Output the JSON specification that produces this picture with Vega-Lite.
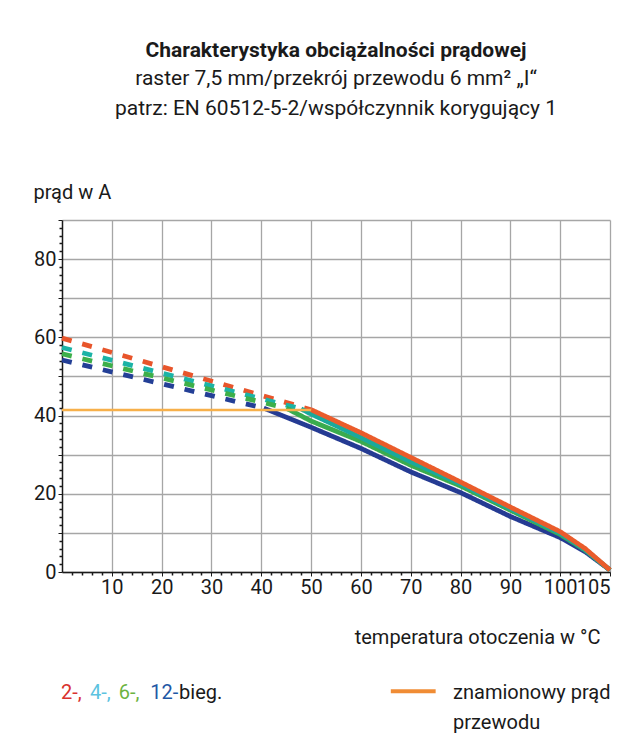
{
  "$schema": "https://vega.github.io/schema/vega-lite/v6.json",
  "width": 548,
  "height": 352,
  "autosize": {"type": "none"},
  "padding": {"left": 62, "top": 220, "right": 31, "bottom": 179},
  "background": "white",
  "config": {
    "font": "Roboto, sans-serif",
    "view": {"stroke": null}
  },
  "title": {
    "text": "Charakterystyka obciążalności prądowej",
    "subtitle": ["raster 7,5 mm/przekrój przewodu 6 mm² „I“", "patrz: EN 60512-5-2/współczynnik korygujący 1"],
    "fontSize": 21,
    "fontWeight": "bold",
    "color": "#1a1a1a",
    "subtitleFontSize": 21,
    "subtitleColor": "#1a1a1a",
    "subtitleLineHeight": 30,
    "subtitlePadding": 7,
    "anchor": "middle",
    "frame": "group",
    "offset": 63
  },
  "datasets": {
    "curves": [
      {"k": "R-d", "st": "d", "t": 0, "i": 59.8},
      {"k": "R-d", "st": "d", "t": 50, "i": 41.5},
      {"k": "T-d", "st": "d", "t": 0, "i": 57.4},
      {"k": "T-d", "st": "d", "t": 48, "i": 41.7},
      {"k": "G-d", "st": "d", "t": 0, "i": 55.8},
      {"k": "G-d", "st": "d", "t": 45, "i": 41.9},
      {"k": "B-d", "st": "d", "t": 0, "i": 54.2},
      {"k": "B-d", "st": "d", "t": 40.5, "i": 41.9},
      {"k": "B-s", "st": "s", "t": 40.5, "i": 41.9},
      {"k": "B-s", "st": "s", "t": 50, "i": 37.0},
      {"k": "B-s", "st": "s", "t": 60, "i": 31.6},
      {"k": "B-s", "st": "s", "t": 70, "i": 25.6},
      {"k": "B-s", "st": "s", "t": 80, "i": 20.3},
      {"k": "B-s", "st": "s", "t": 90, "i": 14.2},
      {"k": "B-s", "st": "s", "t": 100, "i": 8.8},
      {"k": "B-s", "st": "s", "t": 102.5, "i": 5.2},
      {"k": "B-s", "st": "s", "t": 105, "i": 0.5},
      {"k": "G-s", "st": "s", "t": 45, "i": 41.9},
      {"k": "G-s", "st": "s", "t": 50, "i": 38.6},
      {"k": "G-s", "st": "s", "t": 60, "i": 33.4},
      {"k": "G-s", "st": "s", "t": 70, "i": 27.3},
      {"k": "G-s", "st": "s", "t": 80, "i": 22.0},
      {"k": "G-s", "st": "s", "t": 90, "i": 15.8},
      {"k": "G-s", "st": "s", "t": 100, "i": 9.6},
      {"k": "G-s", "st": "s", "t": 102.5, "i": 5.6},
      {"k": "G-s", "st": "s", "t": 105, "i": 0.5},
      {"k": "T-s", "st": "s", "t": 48, "i": 41.7},
      {"k": "T-s", "st": "s", "t": 50, "i": 40.4},
      {"k": "T-s", "st": "s", "t": 60, "i": 34.4},
      {"k": "T-s", "st": "s", "t": 70, "i": 28.2},
      {"k": "T-s", "st": "s", "t": 80, "i": 22.5},
      {"k": "T-s", "st": "s", "t": 90, "i": 16.2},
      {"k": "T-s", "st": "s", "t": 100, "i": 9.9},
      {"k": "T-s", "st": "s", "t": 102.5, "i": 5.7},
      {"k": "T-s", "st": "s", "t": 105, "i": 0.5},
      {"k": "R-s", "st": "s", "t": 50, "i": 41.5},
      {"k": "R-s", "st": "s", "t": 60, "i": 35.6},
      {"k": "R-s", "st": "s", "t": 70, "i": 29.3},
      {"k": "R-s", "st": "s", "t": 80, "i": 23.0},
      {"k": "R-s", "st": "s", "t": 90, "i": 16.6},
      {"k": "R-s", "st": "s", "t": 100, "i": 10.3},
      {"k": "R-s", "st": "s", "t": 102.5, "i": 6.0},
      {"k": "R-s", "st": "s", "t": 105, "i": 0.5}
    ],
    "rated": [
      {"t": 0, "i": 41.4},
      {"t": 50, "i": 41.4}
    ],
    "one": [{}]
  },
  "layer": [
    {
      "data": {"name": "curves"},
      "mark": {"type": "line", "strokeWidth": 4.8},
      "encoding": {
        "x": {
          "field": "t", "type": "quantitative",
          "scale": {"domain": [0, 100, 105], "range": [0, 498.2, 548], "nice": false, "zero": false},
          "axis": {
            "orient": "bottom",
            "values": [10, 20, 30, 40, 50, 60, 70, 80, 90, 100, 105],
            "grid": true, "gridColor": "#a6a6a6", "gridWidth": 1.3,
            "domainColor": "#1a1a1a", "domainWidth": 1.5,
            "tickColor": "#1a1a1a", "tickSize": 4,
            "labelFontSize": 20, "labelColor": "#1a1a1a", "labelPadding": 1,
            "labelAlign": {"condition": {"test": "datum.value == 105", "value": "right"}, "value": "center"},
            "labelFlush": false, "labelOverlap": false,
            "title": "temperatura otoczenia w °C",
            "titleFontSize": 20, "titleFontWeight": "normal", "titleColor": "#1a1a1a",
            "titleAnchor": null, "titleAlign": "right", "titleBaseline": "alphabetic",
            "titleX": 538, "titleY": 71
          }
        },
        "y": {
          "field": "i", "type": "quantitative",
          "scale": {"domain": [0, 90], "nice": false, "zero": false},
          "axis": {
            "orient": "left",
            "values": [0, 10, 20, 30, 40, 50, 60, 70, 80, 90],
            "labelExpr": "datum.value % 20 == 0 && datum.value < 90 ? datum.label : ''",
            "grid": true, "gridColor": "#a6a6a6", "gridWidth": 1.3,
            "domainColor": "#1a1a1a", "domainWidth": 1.5,
            "tickColor": "#1a1a1a", "tickSize": 4,
            "labelFontSize": 20, "labelColor": "#1a1a1a", "labelPadding": 2,
            "labelFlush": false, "labelOverlap": false,
            "title": "prąd w A",
            "titleFontSize": 20, "titleFontWeight": "normal", "titleColor": "#1a1a1a",
            "titleAngle": 0, "titleAnchor": null, "titleAlign": "left", "titleBaseline": "alphabetic",
            "titleX": -29, "titleY": -22
          }
        },
        "color": {
          "field": "k", "type": "nominal", "legend": null,
          "scale": {
            "domain": ["B-d", "G-d", "T-d", "R-d", "B-s", "G-s", "T-s", "R-s"],
            "range": ["#233f96", "#3daf4a", "#1bb3a6", "#e8552b", "#253b93", "#3aab4e", "#1aa99b", "#ea5c2b"]
          }
        },
        "strokeDash": {
          "field": "st", "type": "nominal", "legend": null,
          "scale": {"domain": ["d", "s"], "range": [[10, 11], [1, 0]]}
        }
      }
    },
    {
      "data": {"name": "rated"},
      "mark": {"type": "line", "color": "#f7b04a", "strokeWidth": 2.5},
      "encoding": {
        "x": {
          "field": "t", "type": "quantitative",
          "axis": {
            "orient": "bottom", "values": [2, 4, 6, 8, 12, 14, 16, 18, 22, 24, 26, 28, 32, 34, 36, 38, 42, 44, 46, 48, 52, 54, 56, 58, 62, 64, 66, 68, 72, 74, 76, 78, 82, 84, 86, 88, 92, 94, 96, 98, 101, 102, 103, 104],
            "labels": false, "grid": false, "domain": false, "tickSize": 3, "tickColor": "#1a1a1a", "tickWidth": 1.5, "title": null
          }
        },
        "y": {
          "field": "i", "type": "quantitative",
          "axis": {
            "orient": "left", "values": [2, 4, 6, 8, 12, 14, 16, 18, 22, 24, 26, 28, 32, 34, 36, 38, 42, 44, 46, 48, 52, 54, 56, 58, 62, 64, 66, 68, 72, 74, 76, 78, 82, 84, 86, 88],
            "labels": false, "grid": false, "domain": false, "tickSize": 3, "tickColor": "#1a1a1a", "tickWidth": 1.5, "title": null
          }
        }
      }
    },
    {
      "data": {"name": "one"},
      "mark": {"type": "text", "text": "2-,", "align": "left", "baseline": "alphabetic", "fontSize": 20, "color": "#d9322e"},
      "encoding": {"x": {"datum": -0.2, "type": "quantitative", "axis": null}, "y": {"datum": -32.5, "type": "quantitative", "axis": null}}
    },
    {
      "data": {"name": "one"},
      "mark": {"type": "text", "text": "4-,", "align": "left", "baseline": "alphabetic", "fontSize": 20, "color": "#5cc3e0"},
      "encoding": {"x": {"datum": 5.6, "type": "quantitative", "axis": null}, "y": {"datum": -32.5, "type": "quantitative", "axis": null}}
    },
    {
      "data": {"name": "one"},
      "mark": {"type": "text", "text": "6-,", "align": "left", "baseline": "alphabetic", "fontSize": 20, "color": "#6db33f"},
      "encoding": {"x": {"datum": 11.4, "type": "quantitative", "axis": null}, "y": {"datum": -32.5, "type": "quantitative", "axis": null}}
    },
    {
      "data": {"name": "one"},
      "mark": {"type": "text", "text": "12-", "align": "left", "baseline": "alphabetic", "fontSize": 20, "color": "#1f58a5"},
      "encoding": {"x": {"datum": 17.7, "type": "quantitative", "axis": null}, "y": {"datum": -32.5, "type": "quantitative", "axis": null}}
    },
    {
      "data": {"name": "one"},
      "mark": {"type": "text", "text": "bieg.", "align": "left", "baseline": "alphabetic", "fontSize": 20, "color": "#1a1a1a"},
      "encoding": {"x": {"datum": 23.5, "type": "quantitative", "axis": null}, "y": {"datum": -32.5, "type": "quantitative", "axis": null}}
    },
    {
      "data": {"name": "one"},
      "mark": {"type": "rule", "color": "#f08c34", "strokeWidth": 4},
      "encoding": {"x": {"datum": 66, "type": "quantitative", "axis": null}, "x2": {"datum": 75}, "y": {"datum": -30.5, "type": "quantitative", "axis": null}}
    },
    {
      "data": {"name": "one"},
      "mark": {"type": "text", "text": "znamionowy prąd", "align": "left", "baseline": "alphabetic", "fontSize": 20, "color": "#1a1a1a"},
      "encoding": {"x": {"datum": 78.5, "type": "quantitative", "axis": null}, "y": {"datum": -32.5, "type": "quantitative", "axis": null}}
    },
    {
      "data": {"name": "one"},
      "mark": {"type": "text", "text": "przewodu", "align": "left", "baseline": "alphabetic", "fontSize": 20, "color": "#1a1a1a"},
      "encoding": {"x": {"datum": 78.5, "type": "quantitative", "axis": null}, "y": {"datum": -40.2, "type": "quantitative", "axis": null}}
    }
  ],
  "resolve": {"axis": {"x": "independent", "y": "independent"}}
}
